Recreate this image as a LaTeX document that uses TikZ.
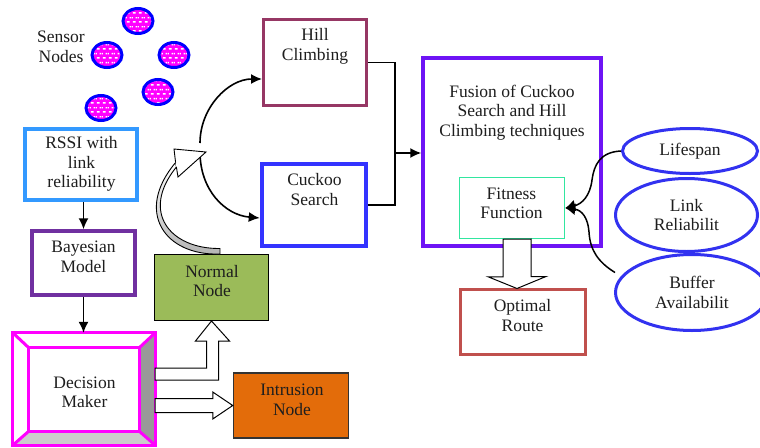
\documentclass[tikz,border=0pt]{standalone}
\usepackage{fontspec}
\setmainfont{Liberation Serif}
\usetikzlibrary{shapes.geometric, arrows.meta, calc, patterns.meta}

\definecolor{rssiblue}{RGB}{51,153,255}
\definecolor{bayespurple}{RGB}{112,48,160}
\definecolor{hillred}{RGB}{150,55,100}
\definecolor{cuckooblue}{RGB}{51,51,255}
\definecolor{fusionviolet}{RGB}{110,20,245}
\definecolor{fitgreen}{RGB}{50,230,160}
\definecolor{optred}{RGB}{192,80,77}
\definecolor{ovalblue}{RGB}{50,50,240}
\definecolor{normalgreen}{RGB}{155,187,89}
\definecolor{introrange}{RGB}{227,108,10}
\definecolor{sensorblue}{RGB}{0,0,255}
\definecolor{hotmagenta}{RGB}{255,0,255}
\definecolor{txtgray}{RGB}{30,30,30}

\newcommand\dgmfont{\fontsize{17.5}{19.5}\selectfont}

\tikzdeclarepattern{
  name=dashbrick,
  type=uncolored,
  bounding box={(0pt,0pt) and (6pt,9pt)},
  tile size={(6pt,9pt)},
  code={
    \pgfsetlinewidth{1.6pt}
    \pgfpathmoveto{\pgfqpoint{1pt}{2.25pt}}\pgfpathlineto{\pgfqpoint{4pt}{2.25pt}}
    \pgfpathmoveto{\pgfqpoint{4pt}{6.75pt}}\pgfpathlineto{\pgfqpoint{6pt}{6.75pt}}
    \pgfpathmoveto{\pgfqpoint{0pt}{6.75pt}}\pgfpathlineto{\pgfqpoint{1pt}{6.75pt}}
    \pgfusepath{stroke}
  }
}

\tikzset{
  frame/.style={rectangle, draw, inner sep=0pt},
  txt/.style={align=center, inner sep=0pt, font=\dgmfont, text=txtgray},
  conn/.style={line width=1.6pt, -{Latex[length=11pt,width=10pt]}},
  fuse/.style={line width=1.6pt},
  blockarrow/.style={draw=black, line width=1pt, fill=white},
  sensor/.style={ellipse, draw=sensorblue, line width=3pt, inner sep=0pt,
    minimum width=30pt, minimum height=25pt,
    preaction={fill=hotmagenta}, pattern=dashbrick, pattern color=white},
  oval/.style={ellipse, draw=ovalblue, line width=3pt, inner sep=0pt,
    align=center, font=\dgmfont, text=txtgray}
}

\begin{document}
\begin{tikzpicture}[x=1pt, y=-1pt]
\useasboundingbox (0,0) rectangle (760,447);
\fill[white] (0,0) rectangle (760,447);

% sensor nodes
\node[sensor] (s1) at (138,21) {};
\node[sensor] (s2) at (107,55) {};
\node[sensor] (s3) at (174,55) {};
\node[sensor] (s4) at (158,92) {};
\node[sensor] (s5) at (101,108) {};
\node[txt] (tsensor) at (61,47) {Sensor\\Nodes};

% left column
\node[frame, draw=rssiblue, line width=4pt, minimum width=112pt, minimum height=71pt] (rssi) at (81,164.5) {};
\node[txt] (trssi) at (81.5,164) {RSSI with\\link\\reliability};
\node[frame, draw=bayespurple, line width=3.5pt, minimum width=103pt, minimum height=64pt] (bayes) at (83.5,263) {};
\node[txt] (tbayes) at (83.5,257) {Bayesian\\Model};

% decision maker (bevel)
\node[frame, draw=none, minimum width=142pt, minimum height=112pt] (decision) at (84,389) {};
\coordinate (dmi1) at ($(decision.north west)+(16,15)$);
\coordinate (dmi2) at ($(decision.south east)+(-16,-14)$);
\fill[black!40] (decision.north east) -- (decision.south east) -- (dmi2) -- (dmi1 -| dmi2) -- cycle;
\fill[black!20] (decision.south west) -- (decision.south east) -- (dmi2) -- (dmi1 |- dmi2) -- cycle;
\draw[hotmagenta, line width=3pt] (decision.north west) rectangle (decision.south east);
\draw[hotmagenta, line width=3pt] (dmi1) rectangle (dmi2);
\draw[hotmagenta, line width=3pt] (decision.north west) -- (dmi1)
  (decision.north east) -- (dmi1 -| dmi2)
  (decision.south west) -- (dmi1 |- dmi2)
  (decision.south east) -- (dmi2);
\node[txt] (tdecision) at (84.5,392.5) {Decision\\Maker};

% outcome nodes
\node[frame, fill=normalgreen, draw=black, line width=1pt, minimum width=114pt, minimum height=66pt] (normal) at (211.5,287.5) {};
\node[txt] (tnormal) at (212,281) {Normal\\Node};
\node[frame, fill=introrange, draw=black!80, line width=1.5pt, minimum width=115pt, minimum height=65pt] (intrusion) at (291,405.5) {};
\node[txt] (tintrusion) at (292,400) {Intrusion\\Node};

% algorithms
\node[frame, draw=hillred, line width=3pt, minimum width=103pt, minimum height=86pt] (hill) at (315,62.5) {};
\node[txt] (thill) at (315,46.5) {Hill\\Climbing};
\node[frame, draw=cuckooblue, line width=4.5pt, minimum width=104pt, minimum height=82pt] (cuckoo) at (314,205) {};
\node[txt] (tcuckoo) at (314.5,189.5) {Cuckoo\\Search};

% fusion
\node[frame, draw=fusionviolet, line width=3.5pt, minimum width=178pt, minimum height=188pt] (fusion) at (512,152) {};
\node[txt] (tfusion) at (512,112.5) {Fusion of Cuckoo\\Search and Hill\\Climbing techniques};
\node[frame, draw=fitgreen, line width=1.5pt, minimum width=105pt, minimum height=61pt] (fitness) at (512,208) {};
\node[txt] (tfitness) at (511.5,203.5) {Fitness\\Function};

\node[frame, draw=optred, line width=3pt, minimum width=125pt, minimum height=65pt] (optimal) at (523,322) {};
\node[txt] (toptimal) at (522.5,315.5) {Optimal\\Route};

% criteria ellipses
\node[oval, minimum width=135pt, minimum height=45pt] (lifespan) at (690,151) {Lifespan};
\node[oval, minimum width=142pt, minimum height=73pt] (link) at (686.5,215) {Link\\Reliabilit};
\node[oval, minimum width=153pt, minimum height=76pt] (buffer) at (692,292.5) {Buffer\\Availabilit};

% thin connectors
\draw[conn] (bayes.north |- rssi.south) -- (bayes.north);
\draw[conn] (bayes.south) -- (bayes.south |- decision.north);

\coordinate (forkA) at (200,143);
\coordinate (forkB) at (200,152);
\draw[conn] (forkA) .. controls (200,108) and (228,79) .. ($(hill.west)+(0,16.5)$);
\draw[conn] (forkB) .. controls (200,190) and (225,215) .. ($(cuckoo.west)+(0,13)$);

\coordinate (J) at (395,153);
\draw[fuse] (hill.east) -- (hill.east -| J) -- (cuckoo.east -| J) -- (cuckoo.east);
\draw[conn] (J) -- (J -| fusion.west);

\draw[line width=1.5pt, -{Latex[length=10pt,width=12pt]}] (lifespan.west) .. controls (600,152) and (594,165) .. (592,180) .. controls (590,196) and (582,204) .. (fitness.east);
\draw[line width=1.5pt, -{Latex[length=10pt,width=12pt]}] ($(buffer.west)+(1,-20)$) .. controls (598,262) and (590,250) .. (589,232) .. controls (588,218) and (582,210) .. (fitness.east);

% block arrows
\coordinate (ntip) at (normal.south);
\draw[blockarrow] (ntip) -- ++(18,20) -- ++(-11,0) |- ($(decision.east)+(0,-9)$)
  -- ($(decision.east)+(0,-21)$) -| ($(ntip)+(-5,20)$) -- ++(-11,0) -- cycle;

\coordinate (itip) at (intrusion.west);
\draw[blockarrow] (itip) -- ++(-20,-13.5) -- ++(0,6.5) -- ($(decision.east |- itip)+(0,-7)$)
  -- ($(decision.east |- itip)+(0,7)$) -- ($(itip)+(-20,7)$) -- ++(0,6.5) -- cycle;

\coordinate (otip) at (517,288.5);
\draw[blockarrow] ($(fitness.south)+(-9,0)$) -- ++(0,37.5) -- ++(-15,0) -- (otip)
  -- ++(29,-12) -- ++(-15,0) -- ++(0,-37.5) -- cycle;

% curved block arrow from Normal Node
\path[draw=black, line width=0.9pt, top color=white, middle color=white, bottom color=black!30]
  (220,254) .. controls (165,256) and (134,212) .. (175.6,162.5)
  -- (176.4,167) .. controls (140,212) and (170,249) .. (220,248.5) -- cycle;
\draw[line width=0.9pt, fill=white] (175.6,162.5) -- (174,149) -- (206,152) -- (178,177) -- (176.4,167);
\end{tikzpicture}
\end{document}
